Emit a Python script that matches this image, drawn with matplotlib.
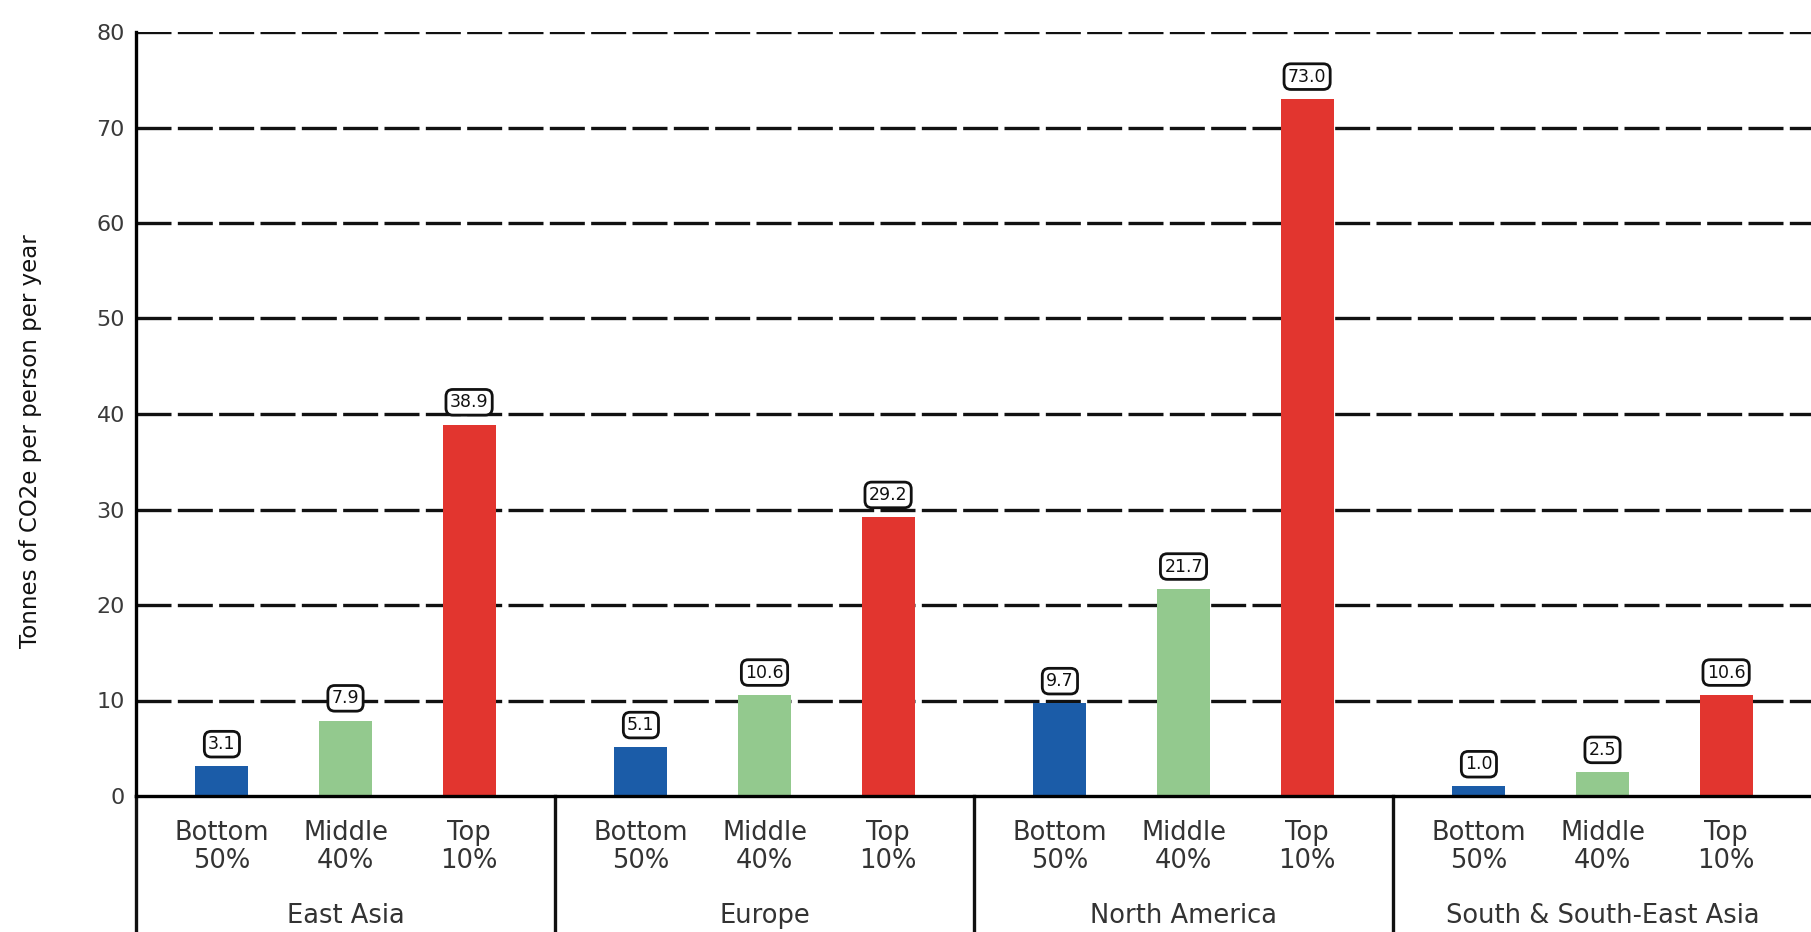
import matplotlib
matplotlib.use("Agg")
import matplotlib.pyplot as plt
import matplotlib.transforms as mtransforms
import numpy as np

# Data
regions = ["East Asia", "Europe", "North America", "South & South-East Asia"]
groups = ["Bottom\n50%", "Middle\n40%", "Top\n10%"]
bottom_50 = [3.1, 5.1, 9.7, 1.0]
middle_40 = [7.9, 10.6, 21.7, 2.5]
top_10 = [38.9, 29.2, 73.0, 10.6]
y_ticks = [0, 10, 20, 30, 40, 50, 60, 70, 80]
y_label = "Tonnes of CO2e per person per year"

colors = ["#1b5ca8", "#93c98e", "#e2352f"]
series = [bottom_50, middle_40, top_10]

W, H = 1811, 932
fig = plt.figure(figsize=(W / 100, H / 100), dpi=100)

step = 3.39                      # distance between region groups (in bar units)
half_gap = (step - 2) / 2        # space from outer bar to group edge
x_left = -half_gap
x_right = 3 * step + 2 + half_gap

ax_left_px, ax_bottom_px, ax_top_px = 136, 796, 32
unit_px = 123.6
ax_width_px = (x_right - x_left) * unit_px
ax = fig.add_axes([ax_left_px / W, (H - ax_bottom_px) / H,
                   ax_width_px / W, (ax_bottom_px - ax_top_px) / H])

bar_w = 0.43
positions = []
labels = []
for g in range(len(regions)):
    for j, vals in enumerate(series):
        x = g * step + j
        v = vals[g]
        ax.bar(x, v, width=bar_w, color=colors[j], zorder=2)
        ax.annotate(f"{v:.1f}", xy=(x, v), xytext=(0, 16),
                    textcoords="offset points", ha="center", va="center",
                    fontsize=12.5, color="#111111", zorder=4,
                    bbox=dict(boxstyle="round,pad=0.22,rounding_size=0.4",
                              fc="white", ec="#111111", lw=2.0))
        positions.append(x)
        labels.append(groups[j])

ax.set_xlim(x_left, x_right)
ax.set_ylim(0, 80)
ax.set_yticks(y_ticks)
ax.set_yticklabels([str(t) for t in y_ticks], fontsize=16, color="#3a3a3a")
ax.tick_params(axis="y", length=0, pad=8)
ax.set_xticks(positions)
ax.set_xticklabels(labels, fontsize=18.5, color="#333333", linespacing=1.1)
ax.tick_params(axis="x", length=0, pad=17)

# Dashed horizontal grid
for t in y_ticks[1:]:
    ax.axhline(t, color="#111111", lw=2.4, dashes=(10.5, 1.9), zorder=1)

for s in ["top", "right"]:
    ax.spines[s].set_visible(False)
ax.spines["left"].set_linewidth(2.4)
ax.spines["bottom"].set_linewidth(2.4)
ax.spines["left"].set_zorder(5)
ax.spines["bottom"].set_zorder(5)

# Region separators and names under the axis
trans = mtransforms.blended_transform_factory(ax.transData, ax.transAxes)
seps = [x_left] + [g * step + 2 + half_gap for g in range(len(regions))]
for xs in seps:
    ax.plot([xs, xs], [0, -0.25], transform=trans, color="#111111",
            lw=2.4, clip_on=False, zorder=5)
for g, name in enumerate(regions):
    ax.text(g * step + 1, -0.157, name, transform=trans, ha="center",
            va="center", fontsize=18.5, color="#333333")

ax.set_ylabel(y_label, fontsize=16.5, color="#111111")
ax.yaxis.set_label_coords(-0.056, 0.465)

fig.savefig("out.png", dpi=100)
